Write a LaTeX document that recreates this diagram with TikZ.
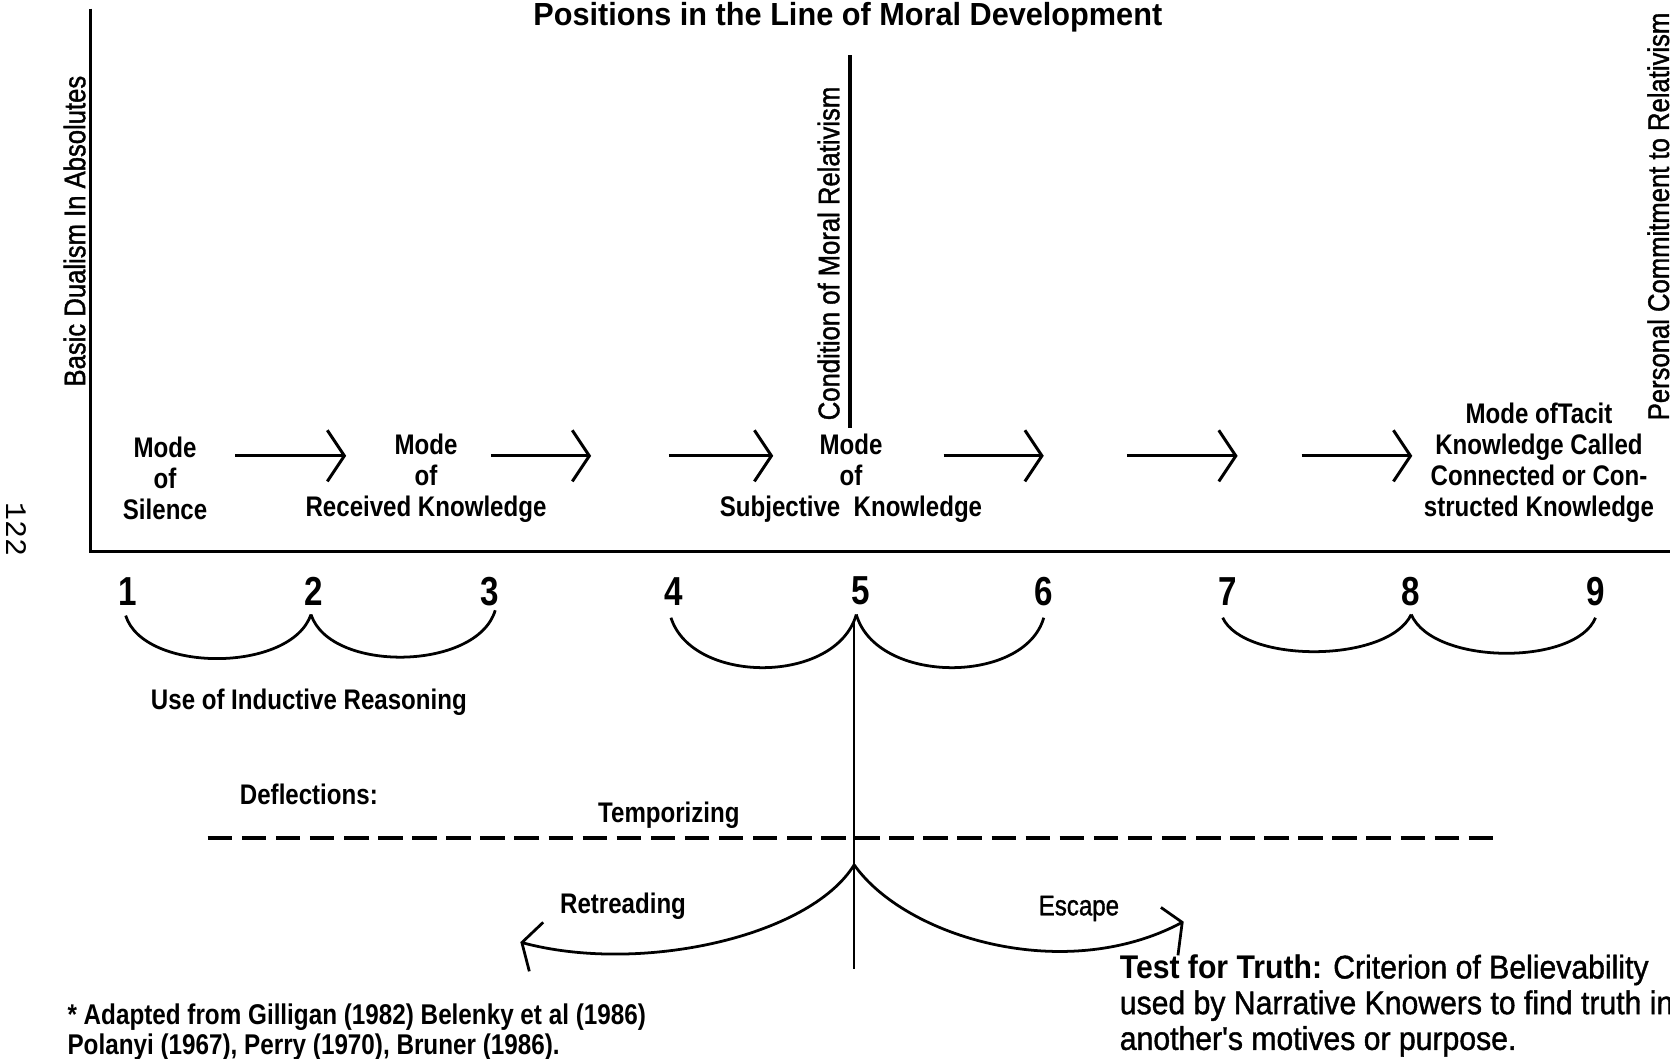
\documentclass[tikz,border=0pt]{standalone}
\usepackage{fontspec}
\setmainfont{Liberation Sans}
\newfontfamily\labf[FakeStretch=0.85]{Liberation Sans}
\newfontfamily\labrf[FakeStretch=0.85,FakeBold=1.2]{Liberation Sans}
\newfontfamily\titf[FakeStretch=0.96]{Liberation Sans}
\newfontfamily\numf[FakeStretch=0.82]{Liberation Sans}
\newfontfamily\rotf[FakeStretch=0.86,FakeBold=1.3]{Liberation Sans}
\newfontfamily\tstf[FakeStretch=0.92,FakeBold=1.2]{Liberation Sans}
\newfontfamily\tstbf[FakeStretch=0.92]{Liberation Sans}
\newfontfamily\monof{Liberation Mono}
\usetikzlibrary{arrows.meta}
\begin{document}
\begin{tikzpicture}[x=0.5pt,y=-0.5pt,
  axis/.style={line width=1.6pt},
  flow/.style={line width=1.4pt,-{Straight Barb[length=8pt,width=24pt]}},
  arcline/.style={line width=1.3pt},
  thin/.style={line width=1.1pt},
  lab/.style={font=\labf\bfseries\fontsize{13.3}{14.5}\selectfont, align=center, inner sep=0pt},
  labr/.style={font=\labrf\fontsize{13.3}{14.5}\selectfont, align=center, inner sep=0pt},
  titlestyle/.style={font=\titf\bfseries\fontsize{15}{17}\selectfont, inner sep=0pt},
  rotlab/.style={font=\rotf\fontsize{14}{16}\selectfont, inner sep=0pt, rotate=90},
  numlab/.style={font=\numf\bfseries\fontsize{19}{22}\selectfont, inner sep=0pt},
  testlab/.style={font=\tstf\fontsize{15.4}{16.75}\selectfont, align=left, inner sep=0pt, anchor=north west},
  footlab/.style={font=\labf\bfseries\fontsize{13.4}{14}\selectfont, align=left, inner sep=0pt, anchor=north west},
  pagenum/.style={font=\monof\fontsize{14}{16}\selectfont, inner sep=0pt, rotate=-90}
]
\useasboundingbox (0,0) rectangle (1568,994);

% axes
\coordinate (top) at (85,8);
\coordinate (origin) at (85,518);
\coordinate (right) at (1568,518);
\draw[axis] (top) -- (origin) -- (right);

% title
\node[titlestyle] (title) at (796,16) {Positions in the Line of Moral Development};

% vertical labels
\node[rotlab] (dual) at (70,217) {Basic Dualism In Absolutes};
\node[rotlab] (cond) at (778,238) {Condition of Moral Relativism};
\node[rotlab, anchor=west] (pers) at (1557,395) {Personal Commitment to Relativism};
\node[pagenum] (pg) at (15,497) {122};

% condition line
\coordinate (condtop) at (798,52);
\coordinate (condbot) at (798,402);
\draw[axis] (condtop) -- (condbot);

% modes
\node[lab] (silence) at (155,449) {Mode\\of\\Silence};
\node[lab] (received) at (400,449) {Mode\\of\\Received Knowledge};
\node[lab] (subjective) at (799,449) {Mode\\of\\Subjective\ \ Knowledge};
\node[lab] (tacit) at (1445,434.5) {Mode ofTacit\\Knowledge Called\\Connected or Con-\\structed Knowledge};

% arrows
\coordinate (a1s) at (221,428); \coordinate (a1e) at (325,428);
\coordinate (a2s) at (461,428); \coordinate (a2e) at (555,428);
\coordinate (a3s) at (628,428); \coordinate (a3e) at (726,428);
\coordinate (a4s) at (886,428); \coordinate (a4e) at (980,428);
\coordinate (a5s) at (1058,428); \coordinate (a5e) at (1162,428);
\coordinate (a6s) at (1222,428); \coordinate (a6e) at (1326,428);
\foreach \i in {1,...,6} { \draw[flow] (a\i s) -- (a\i e); }

% numbers
\node[numlab] (n1) at (120,555) {1};
\node[numlab] (n2) at (295,555) {2};
\node[numlab] (n3) at (460,555) {3};
\node[numlab] (n4) at (633,555) {4};
\node[numlab] (n5) at (808,555) {5};
\node[numlab] (n6) at (980,555) {6};
\node[numlab] (n7) at (1153,555) {7};
\node[numlab] (n8) at (1325,555) {8};
\node[numlab] (n9) at (1498,555) {9};

% arcs
\coordinate (p1) at (118,578);
\coordinate (p2) at (292,577);
\coordinate (p3) at (465,573);
\coordinate (p4) at (630,580);
\coordinate (p5) at (804,577);
\coordinate (p6) at (980,580);
\coordinate (p7) at (1148,580);
\coordinate (p8) at (1325,577);
\coordinate (p9) at (1498,580);
\draw[arcline] (p1) .. controls (135,632) and (273,632) .. (p2);
\draw[arcline] (p2) .. controls (310,632) and (448,630) .. (p3);
\draw[arcline] (p4) .. controls (650,643) and (785,643) .. (p5);
\draw[arcline] (p5) .. controls (823,643) and (962,643) .. (p6);
\draw[arcline] (p7) .. controls (1168,623) and (1303,623) .. (p8);
\draw[arcline] (p8) .. controls (1346,625) and (1480,625) .. (p9);

\node[lab] (induct) at (290,659) {Use of Inductive Reasoning};

% stem from 5
\coordinate (stemtop) at (802,585);
\coordinate (stembot) at (802,910);
\coordinate (cusp) at (802,812);
\draw[thin] (stemtop) -- (stembot);

% deflections
\node[lab] (defl) at (290,746) {Deflections:};
\node[lab] (temp) at (628,765) {Temporizing};
\coordinate (dashl) at (195,787);
\coordinate (dashr) at (1410,787);
\draw[line width=1.6pt, dash pattern=on 11.5pt off 4.5pt] (dashl) -- (dashr);

\coordinate (rtip) at (490,885);
\coordinate (etip) at (1110,866);
\draw[arcline] (cusp) .. controls (760,880) and (600,915) .. (rtip);
\draw[arcline] (510,866) -- (rtip) -- (497,912);
\draw[arcline] (cusp) .. controls (850,880) and (1000,925) .. (etip);
\draw[arcline] (1090,852) -- (etip) -- (1106,897);
\node[lab] (retr) at (585,851) {Retreading};
\node[labr] (esc) at (1013,853) {Escape};

% test for truth
\node[testlab] (test) at (1051,896) {{\tstbf\bfseries Test for Truth:} Criterion of Believability\\used by Narrative Knowers to find truth in\\another's motives or purpose.};

% footnote
\node[footlab] (foot) at (63,942) {* Adapted from Gilligan (1982) Belenky et al (1986)\\Polanyi (1967), Perry (1970), Bruner (1986).};
\end{tikzpicture}
\end{document}
